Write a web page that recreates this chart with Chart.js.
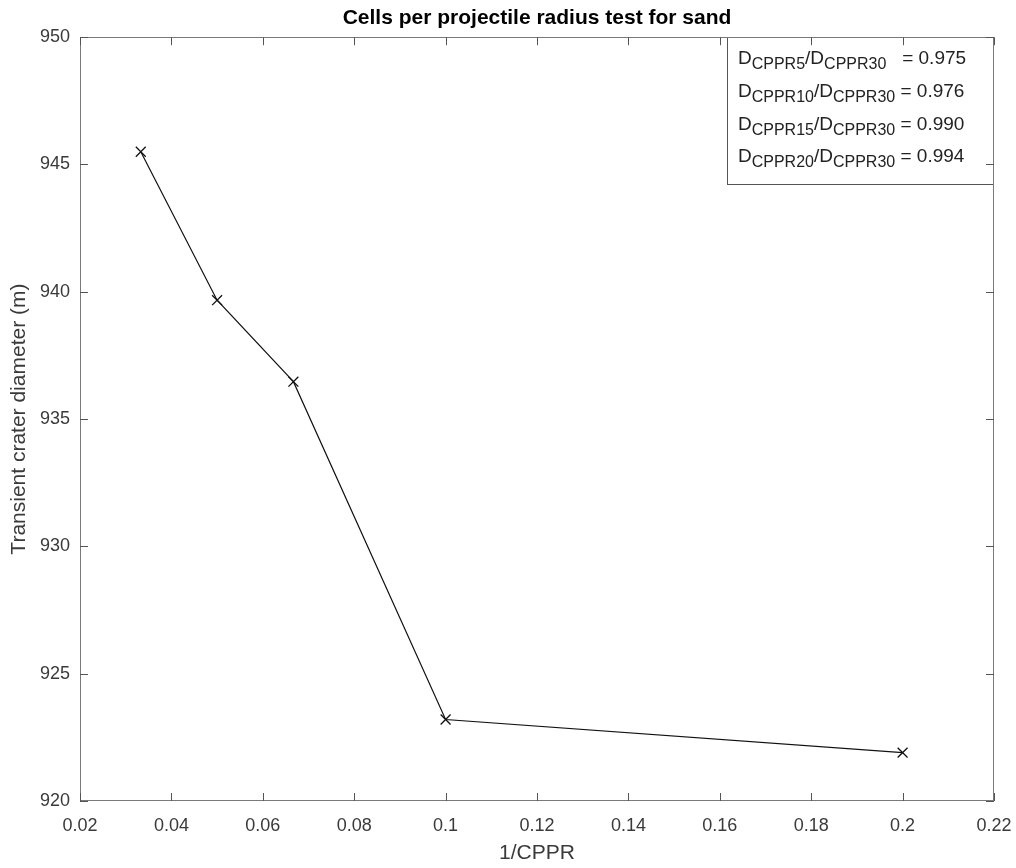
<!DOCTYPE html>
<html>
<head>
<meta charset="utf-8">
<script src="https://cdn.jsdelivr.net/npm/chart.js@4.4.1/dist/chart.umd.min.js"></script>
<style>
  html, body { margin: 0; padding: 0; background: #ffffff; }
  #wrap { width: 1016px; height: 868px; position: relative; }
</style>
</head>
<body>
<div id="wrap"><canvas id="c" width="1016" height="868"></canvas></div>
<script>
// ---- data ----
const inverseCPPR = [0.0333, 0.05, 0.0667, 0.1, 0.2];
const craterDiameter = [945.5, 939.67, 936.47, 923.2, 921.9];
const xTickValues = [0.02, 0.04, 0.06, 0.08, 0.1, 0.12, 0.14, 0.16, 0.18, 0.2, 0.22];
const yTickValues = [920, 925, 930, 935, 940, 945, 950];
const ratioNames = ['CPPR5', 'CPPR10', 'CPPR15', 'CPPR20'];
const ratioReference = 'CPPR30';
const ratioValues = ['0.975', '0.976', '0.990', '0.994'];
const chartTitle = 'Cells per projectile radius test for sand';
const xAxisTitle = '1/CPPR';
const yAxisTitle = 'Transient crater diameter (m)';

const FONT = "'Liberation Sans', Arial, Helvetica, sans-serif";
const AXIS_COLOR = '#7a7a7a';
const TEXT_COLOR = '#3a3a3a';
const TICK_LEN = 8;

const boxPlugin = {
  id: 'matlabBox',
  afterDatasetsDraw(chart) {
    const ctx = chart.ctx;
    const a = chart.chartArea;
    const boxLeft = 727, boxTop = Math.round(a.top), boxRight = Math.round(a.right), boxBottom = 184;
    ctx.save();
    ctx.fillStyle = '#ffffff';
    ctx.fillRect(boxLeft, boxTop, boxRight - boxLeft, boxBottom - boxTop);
    ctx.strokeStyle = '#555555';
    ctx.lineWidth = 1;
    ctx.strokeRect(boxLeft + 0.5, boxTop + 0.5, boxRight - boxLeft - 1, boxBottom - boxTop);
    ctx.fillStyle = '#222222';
    ctx.textBaseline = 'alphabetic';
    ctx.textAlign = 'left';
    const mainFont = '19px ' + FONT;
    const subFont = '16px ' + FONT;
    const baselines = [64, 97, 130, 162];
    ratioNames.forEach((name, i) => {
      let x = 738;
      const y = baselines[i];
      ctx.font = mainFont; ctx.fillText('D', x, y); x += ctx.measureText('D').width;
      ctx.font = subFont; ctx.fillText(name, x, y + 5); x += ctx.measureText(name).width;
      ctx.font = mainFont; ctx.fillText('/D', x, y); x += ctx.measureText('/D').width;
      ctx.font = subFont; ctx.fillText(ratioReference, x, y + 5); x += ctx.measureText(ratioReference).width;
      ctx.font = mainFont;
      const eq = (i === 0 ? '   = ' : ' = ') + ratioValues[i];
      ctx.fillText(eq, x, y);
    });
    ctx.restore();
  },
  afterDraw(chart) {
    const ctx = chart.ctx;
    const a = chart.chartArea;
    const xs = chart.scales.x, ys = chart.scales.y;
    ctx.save();
    ctx.strokeStyle = AXIS_COLOR;
    ctx.lineWidth = 1;
    ctx.strokeRect(Math.round(a.left) + 0.5, Math.round(a.top) + 0.5,
                   Math.round(a.right - a.left) - 1, Math.round(a.bottom - a.top) - 1);
    ctx.strokeStyle = '#555555';
    ctx.beginPath();
    xTickValues.forEach(v => {
      const px = Math.round(xs.getPixelForValue(v)) + 0.5;
      ctx.moveTo(px, a.bottom); ctx.lineTo(px, a.bottom - TICK_LEN);
      ctx.moveTo(px, a.top); ctx.lineTo(px, a.top + TICK_LEN);
    });
    yTickValues.forEach(v => {
      const py = Math.round(ys.getPixelForValue(v)) + 0.5;
      ctx.moveTo(a.left, py); ctx.lineTo(a.left + TICK_LEN, py);
      ctx.moveTo(a.right, py); ctx.lineTo(a.right - TICK_LEN, py);
    });
    ctx.stroke();
    ctx.restore();
  }
};

new Chart(document.getElementById('c'), {
  type: 'line',
  data: {
    datasets: [{
      data: inverseCPPR.map((x, i) => ({ x: x, y: craterDiameter[i] })),
      borderColor: '#111111',
      backgroundColor: '#000000',
      borderWidth: 1.2,
      pointStyle: 'crossRot',
      pointRadius: 7,
      pointBorderWidth: 1.3,
      pointBorderColor: '#111111',
      tension: 0,
      fill: false
    }]
  },
  options: {
    responsive: false,
    animation: false,
    events: [],
    layout: { padding: { top: 0, right: 22, left: 0, bottom: 0 } },
    plugins: {
      legend: { display: false },
      tooltip: { enabled: false },
      title: {
        display: true,
        fullSize: false,
        text: chartTitle,
        color: '#000000',
        font: { family: FONT, size: 21, weight: 'bold', lineHeight: 1.2 },
        padding: { top: 6, bottom: 6 }
      }
    },
    scales: {
      x: {
        type: 'linear',
        min: 0.02,
        max: 0.22,
        afterFit(scale) { scale.height = 67; scale.paddingLeft = 0; scale.paddingRight = 0; },
        afterBuildTicks(scale) { scale.ticks = xTickValues.map(v => ({ value: v })); },
        grid: { display: false, drawTicks: false },
        border: { display: false },
        ticks: {
          autoSkip: false,
          maxRotation: 0,
          padding: 14,
          color: TEXT_COLOR,
          font: { family: FONT, size: 18 },
          callback: v => String(parseFloat(Number(v).toFixed(2)))
        },
        title: {
          display: true,
          text: xAxisTitle,
          color: TEXT_COLOR,
          font: { family: FONT, size: 21 },
          padding: { top: 0, bottom: 2 }
        }
      },
      y: {
        type: 'linear',
        min: 920,
        max: 950,
        afterFit(scale) { scale.width = 80; scale.paddingTop = 0; scale.paddingBottom = 0; },
        afterBuildTicks(scale) { scale.ticks = yTickValues.map(v => ({ value: v })); },
        grid: { display: false, drawTicks: false },
        border: { display: false },
        ticks: {
          autoSkip: false,
          padding: 10,
          color: TEXT_COLOR,
          font: { family: FONT, size: 18 },
          callback: v => String(v)
        },
        title: {
          display: true,
          text: yAxisTitle,
          color: TEXT_COLOR,
          font: { family: FONT, size: 21 },
          padding: { top: 7, bottom: 0 }
        }
      }
    }
  },
  plugins: [boxPlugin]
});
</script>
</body>
</html>
